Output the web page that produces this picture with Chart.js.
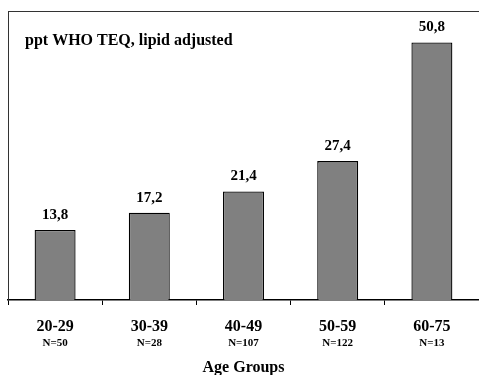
<!DOCTYPE html>
<html lang="en">
<head>
  <meta charset="UTF-8">
  <title>ppt WHO TEQ by age group</title>
  <style>
    body { margin: 0; padding: 0; background: #fff; }
    #wrap { width: 479px; height: 375px; }
  </style>
  <script src="https://cdn.jsdelivr.net/npm/chart.js"></script>
</head>
<body>
  <div id="wrap"><canvas id="chart" width="479" height="375"></canvas></div>
  <script>
    const ageGroups = ["20-29", "30-39", "40-49", "50-59", "60-75"];
    const sampleSizes = ["N=50", "N=28", "N=107", "N=122", "N=13"];
    const teqValues = [13.8, 17.2, 21.4, 27.4, 50.8];
    const chartLabel = "ppt WHO TEQ, lipid adjusted";
    const axisTitle = "Age Groups";

    const serif = "'Liberation Serif', 'Times New Roman', serif";

    // frame line on top + text label inside the plot
    const framePlugin = {
      id: "frame",
      afterDraw(chart) {
        const { ctx, chartArea } = chart;
        ctx.save();
        ctx.strokeStyle = "#333";
        ctx.lineWidth = 1;
        ctx.beginPath();
        ctx.moveTo(chartArea.left, chartArea.top + 0.5);
        ctx.lineTo(chartArea.right, chartArea.top + 0.5);
        ctx.stroke();
        ctx.fillStyle = "#000";
        ctx.font = "bold 16px " + serif;
        ctx.textBaseline = "middle";
        ctx.textAlign = "left";
        ctx.fillText(chartLabel, chartArea.left + 17, chartArea.top + 30);
        ctx.restore();
      }
    };

    // numbers above each bar, with a comma as decimal sign
    const valuePlugin = {
      id: "values",
      afterDatasetsDraw(chart) {
        const { ctx } = chart;
        const meta = chart.getDatasetMeta(0);
        ctx.save();
        ctx.fillStyle = "#000";
        ctx.font = "bold 15px " + serif;
        ctx.textAlign = "center";
        ctx.textBaseline = "middle";
        meta.data.forEach((bar, i) => {
          const txt = teqValues[i].toFixed(1).replace(".", ",");
          ctx.fillText(txt, bar.x, bar.y - 15);
        });
        ctx.restore();
      }
    };

    new Chart(document.getElementById("chart"), {
      type: "bar",
      data: {
        labels: ageGroups,
        datasets: [{
          data: teqValues,
          backgroundColor: "#808080",
          borderColor: "#000",
          borderWidth: 1.3,
          categoryPercentage: 1,
          barPercentage: 0.435
        }]
      },
      options: {
        responsive: false,
        animation: false,
        layout: { padding: { left: 8, top: 11, right: 0, bottom: 0 } },
        plugins: {
          legend: { display: false },
          tooltip: { enabled: false }
        },
        scales: {
          x: {
            position: "bottom",
            offset: true,
            grid: {
              display: true,
              offset: true,
              drawOnChartArea: false,
              drawTicks: true,
              tickLength: 5,
              color: "#000",
              lineWidth: 1
            },
            border: { display: true, color: "#000", width: 1.5 },
            ticks: {
              color: "#000",
              padding: 12,
              maxRotation: 0,
              font: { family: serif, size: 16, weight: "bold" }
            },
            afterFit(s) { s.height = 36; }
          },
          x2: {
            type: "category",
            position: "bottom",
            labels: sampleSizes,
            offset: true,
            grid: { display: false },
            border: { display: false },
            ticks: {
              color: "#000",
              padding: -7,
              maxRotation: 0,
              font: { family: serif, size: 11, weight: "bold" }
            },
            title: {
              display: true,
              text: axisTitle,
              color: "#000",
              padding: { top: 0, bottom: -2 },
              font: { family: serif, size: 16, weight: "bold" }
            },
            afterFit(s) { s.height = 39; }
          },
          y: {
            min: 0,
            max: 57,
            ticks: { display: false },
            grid: { display: false },
            border: { display: true, color: "#333", width: 1 },
            afterFit(s) { s.width = 0; }
          }
        }
      },
      plugins: [framePlugin, valuePlugin]
    });
  </script>
</body>
</html>
